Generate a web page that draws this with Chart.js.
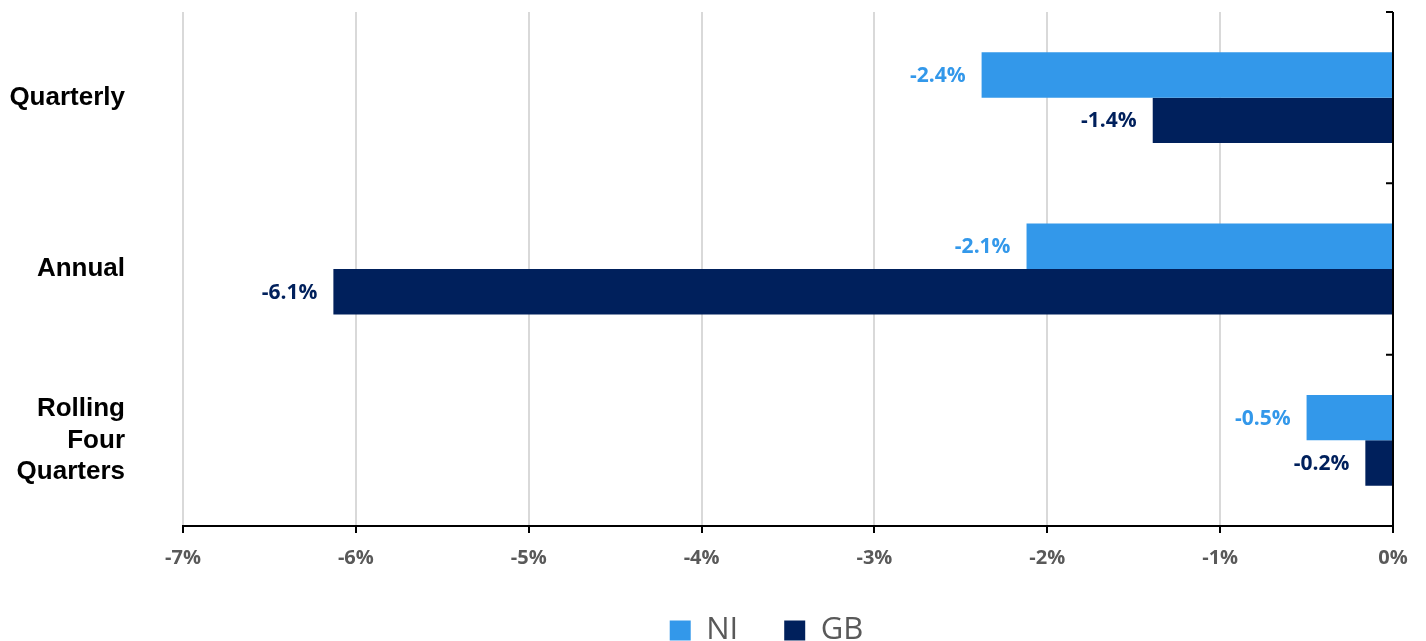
<!DOCTYPE html>
<html>
<head>
<meta charset="utf-8">
<script src="https://cdn.jsdelivr.net/npm/chart.js@4.4.1/dist/chart.umd.min.js"></script>
<style>
    html, body { margin: 0; padding: 0; background: #fff; }
    #wrap { width: 1426px; height: 641px; }
</style>
</head>
<body>
<div id="wrap"><canvas id="changeChart"></canvas></div>
<script>
// ### DATA ###
const categories = ['Quarterly', 'Annual', ['Rolling', 'Four', 'Quarters']];
const niValues = [-2.38, -2.12, -0.50];
const gbValues = [-1.39, -6.13, -0.16];
const xTicks = [-7, -6, -5, -4, -3, -2, -1, 0];

const NI_COLOR = '#3398EA';
const GB_COLOR = '#00205C';
const LEGEND_SHIFT = 70;

// --- Right hand axis line (at 0%) with small inward ticks ---
const zeroAxisPlugin = {
    id: 'zeroAxis',
    afterLayout(chart) {
        // nudge the legend a little right, like the original
        if (chart.legend) {
            chart.legend.left += LEGEND_SHIFT;
            chart.legend.right += LEGEND_SHIFT;
        }
    },
    afterDatasetsDraw(chart) {
        const { ctx, chartArea, scales } = chart;
        const x0 = scales.x.getPixelForValue(0);
        ctx.save();
        ctx.strokeStyle = '#000';
        ctx.lineWidth = 2;
        ctx.beginPath();
        ctx.moveTo(x0, chartArea.top);
        ctx.lineTo(x0, chartArea.bottom);
        for (let i = 0; i < categories.length; i++) {
            const y = scales.y.getPixelForValue(i - 0.5);
            ctx.moveTo(x0 - 7, y);
            ctx.lineTo(x0, y);
        }
        ctx.stroke();
        ctx.restore();
    }
};

// --- Value labels left of each bar end ---
const valueLabelPlugin = {
    id: 'valueLabels',
    afterDatasetsDraw(chart) {
        const { ctx } = chart;
        ctx.save();
        ctx.font = 'bold 21px "Open Sans"';
        ctx.textAlign = 'right';
        ctx.textBaseline = 'middle';
        chart.data.datasets.forEach((ds, di) => {
            const meta = chart.getDatasetMeta(di);
            ctx.fillStyle = ds.backgroundColor;
            meta.data.forEach((bar, i) => {
                ctx.fillText(ds.data[i].toFixed(1) + '%', bar.x - 16, bar.y + 1);
            });
        });
        ctx.restore();
    }
};

new Chart(document.getElementById('changeChart'), {
    type: 'bar',
    data: {
        labels: categories,
        datasets: [
            { label: 'NI', data: niValues, backgroundColor: NI_COLOR, borderWidth: 0 },
            { label: 'GB', data: gbValues, backgroundColor: GB_COLOR, borderWidth: 0 }
        ]
    },
    options: {
        indexAxis: 'y',
        responsive: true,
        maintainAspectRatio: false,
        animation: false,
        categoryPercentage: 0.53,
        barPercentage: 1.0,
        layout: { padding: { top: 12, right: 33, left: 0, bottom: -15 } },
        plugins: {
            legend: {
                position: 'bottom',
                labels: {
                    boxWidth: 21,
                    boxHeight: 20,
                    padding: 46,
                    color: '#595959',
                    font: { family: '"Open Sans"', size: 31 }
                }
            },
            tooltip: { enabled: false }
        },
        scales: {
            x: {
                min: -7,
                max: 0,
                afterBuildTicks: scale => { scale.ticks = xTicks.map(v => ({ value: v })); },
                afterFit: scale => { scale.height = 43; },
                border: { color: '#000', width: 2 },
                grid: { color: '#d9d9d9', lineWidth: 2, tickColor: '#000', tickLength: 7, tickWidth: 2 },
                ticks: {
                    padding: 13,
                    color: '#595959',
                    font: { family: '"Open Sans"', size: 20, weight: 'bold' },
                    callback: v => v + '%'
                }
            },
            y: {
                position: 'left',
                border: { display: false },
                grid: { display: false, drawTicks: false },
                afterFit: scale => {
                    scale.width = 183;
                    scale.paddingTop = 0;
                    scale.paddingBottom = 0;
                },
                ticks: {
                    padding: 58,
                    color: '#000',
                    font: { family: '"Liberation Sans"', size: 26, weight: 'bold', lineHeight: 1.2 }
                }
            }
        }
    },
    plugins: [zeroAxisPlugin, valueLabelPlugin]
});
</script>
</body>
</html>
